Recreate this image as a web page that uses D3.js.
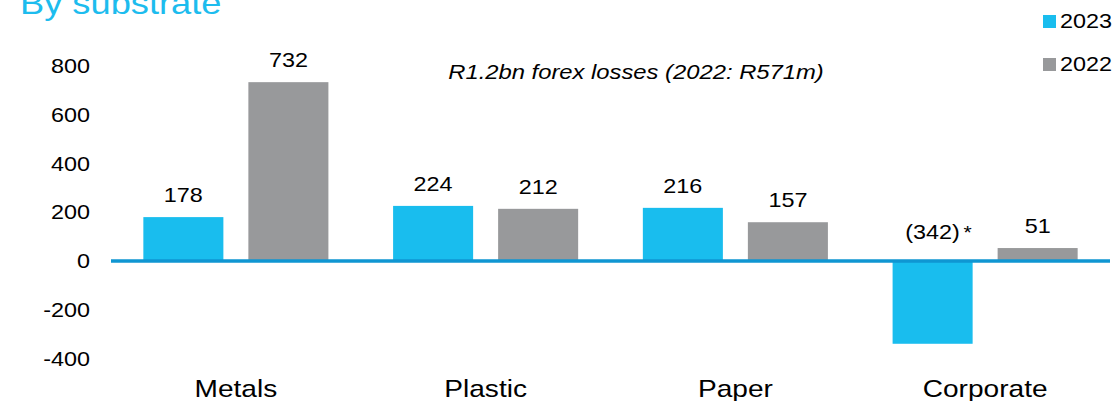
<!DOCTYPE html>
<html>
<head>
<meta charset="utf-8">
<script src="https://cdn.jsdelivr.net/npm/d3@7"></script>
<style>
  html, body { margin: 0; padding: 0; background: #fff; }
  svg { display: block; font-family: "Liberation Sans", Arial, sans-serif; }
</style>
</head>
<body>
<svg id="chart" width="1117" height="401"></svg>
<script>
// Operating profit by substrate, R million
const categories = ["Metals", "Plastic", "Paper", "Corporate"];
const seriesNames = ["2023", "2022"];
const values2023 = [178, 224, 216, -342];
const values2022 = [732, 212, 157, 51];
const yTicks = [800, 600, 400, 200, 0, -200, -400];
const footnoteMarks = ["", "", "", "*"];   // appended to 2023 labels

const colors = { "2023": "#19bdee", "2022": "#98999b" };
const SX = 1.17;   // horizontal stretch applied to the type

const svg = d3.select("#chart");

const x = d3.scaleBand().domain(categories).range([111, 1110]);
const xInner = d3.scaleBand().domain(seriesNames)
  .range([0, x.bandwidth()]).paddingInner(0.238).paddingOuter(0.308);
const y = d3.scaleLinear().domain([-400, 800]).range([357.9, 65.6]);

const rows = categories.map((c, i) => ({
  category: c,
  bars: [
    { series: "2023", value: values2023[i], mark: footnoteMarks[i] },
    { series: "2022", value: values2022[i], mark: "" }
  ]
}));

// Title (partly above the frame)
svg.append("text")
  .attr("transform", "translate(20,14) scale(" + SX + ",1)")
  .attr("fill", "#1dbcee").attr("font-size", 31)
  .text("By substrate");

// Y axis: labels only, plain hyphen for negatives
const yAxis = d3.axisLeft(y).tickValues(yTicks).tickSize(0).tickPadding(0)
  .tickFormat(d => String(d));
const gy = svg.append("g").attr("transform", "translate(90,0)").call(yAxis);
gy.select(".domain").remove();
gy.selectAll("text")
  .attr("x", 0).attr("dy", "0.36em")
  .attr("transform", "scale(" + SX + ",1)")
  .attr("font-size", 20).attr("fill", "#000")
  .attr("font-family", "Liberation Sans, Arial, sans-serif");

// Bars
const groups = svg.append("g").selectAll("g").data(rows).join("g")
  .attr("transform", d => "translate(" + x(d.category) + ",0)");

groups.selectAll("rect").data(d => d.bars).join("rect")
  .attr("x", d => xInner(d.series))
  .attr("width", xInner.bandwidth())
  .attr("y", d => y(Math.max(0, d.value)))
  .attr("height", d => Math.abs(y(d.value) - y(0)))
  .attr("fill", d => colors[d.series]);

// Value labels
const fmt = v => v < 0 ? "(" + (-v) + ")" : String(v);
const labels = groups.selectAll("g.lbl").data(d => d.bars).join("g")
  .attr("class", "lbl")
  .attr("transform", d => {
    const cx = xInner(d.series) + xInner.bandwidth() / 2;
    const by = d.value >= 0 ? y(d.value) - 15 : y(0) - 21;
    return "translate(" + cx + "," + by + ")";
  });
labels.append("text")
  .attr("transform", "scale(" + SX + ",1)")
  .attr("text-anchor", "middle").attr("font-size", 20).attr("fill", "#000")
  .text(d => fmt(d.value));
labels.filter(d => d.mark).append("text")
  .attr("transform", "translate(31,0) scale(" + SX + ",1)")
  .attr("font-size", 18).attr("fill", "#000")
  .text(d => d.mark);

// Zero baseline
svg.append("line")
  .attr("x1", x.range()[0]).attr("x2", x.range()[1])
  .attr("y1", y(0) + 0.5).attr("y2", y(0) + 0.5)
  .attr("stroke", "#0f96d2").attr("stroke-width", 3.5);

// Category axis
const xAxis = d3.axisBottom(x).tickSize(0).tickPadding(0);
const gx = svg.append("g").attr("transform", "translate(0,397)").call(xAxis);
gx.select(".domain").remove();
gx.selectAll("text")
  .attr("y", 0).attr("dy", 0)
  .attr("transform", "scale(" + SX + ",1)")
  .attr("font-size", 24).attr("fill", "#000")
  .attr("font-family", "Liberation Sans, Arial, sans-serif");
gx.selectAll(".tick").attr("transform", d => "translate(" + (x(d) + x.bandwidth() / 2) + ",0)");

// Annotation
svg.append("text")
  .attr("transform", "translate(636,79) scale(1.19,1)")
  .attr("text-anchor", "middle").attr("font-size", 20).attr("font-style", "italic")
  .attr("fill", "#000")
  .text("R1.2bn forex losses (2022: R571m)");

// Legend
const legend = svg.append("g").selectAll("g").data(seriesNames).join("g")
  .attr("transform", (d, i) => "translate(1043," + (15 + i * 43) + ")");
legend.append("rect").attr("width", 13).attr("height", 13)
  .attr("fill", d => colors[d]);
legend.append("text")
  .attr("transform", "translate(17,13) scale(" + SX + ",1)")
  .attr("font-size", 20).attr("fill", "#000")
  .text(d => d);
</script>
</body>
</html>
